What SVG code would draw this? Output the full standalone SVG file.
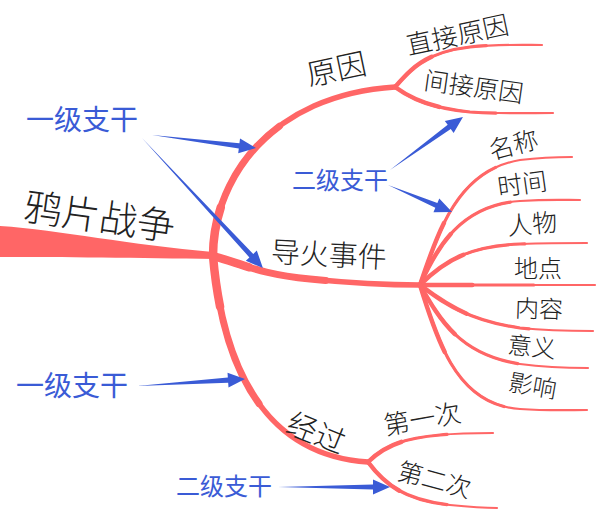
<svg xmlns="http://www.w3.org/2000/svg" xmlns:xlink="http://www.w3.org/1999/xlink" width="604" height="519" viewBox="0 0 604 519">
<style>
.br{fill:none;stroke:#FF6666;stroke-linecap:round}
.m1{stroke-width:5.5}
.m2{stroke-width:7;stroke-dasharray:55 300}
.m3{stroke-width:8.5;stroke-dasharray:18 300}
.s1{stroke-width:2.2}
.s2{stroke-width:3.2;stroke-dasharray:65 300}
.s3{stroke-width:4.4;stroke-dasharray:30 300}
.t{font-family:"Noto Sans CJK SC","Noto Sans CJK JP",sans-serif;font-weight:300;fill:#222;text-anchor:middle;dominant-baseline:central}
.bt{font-family:"Noto Sans CJK SC","Noto Sans CJK JP",sans-serif;fill:#3A5BD6;text-anchor:middle;dominant-baseline:central}
.ar{fill:#3A5BD6}
</style>
<defs>
<path id="p-yy" pathLength="100" d="M213,256 C213,180 270,95 395,87"/>
<path id="p-dh" pathLength="100" d="M213,256 C245,265 260,274 310,279 C360,284 400,285 420,285"/>
<path id="p-jg" pathLength="100" d="M213,256 C222,360 260,455 368,462"/>
<path id="p-zj" pathLength="100" d="M395,87 C410,70 425,52 470,47 C500,44 525,45 542,45"/>
<path id="p-jj" pathLength="100" d="M395,87 C410,98 430,108 470,112 C500,114 530,113 553,113"/>
<path id="p-mc" pathLength="100" d="M420,285 C440,225 460,170 520,160 C545,157 560,157 572,157"/>
<path id="p-sj" pathLength="100" d="M420,285 C440,240 465,205 520,201 C550,199 565,200 580,200"/>
<path id="p-rw" pathLength="100" d="M420,285 C445,260 470,246 520,244 C550,243 570,243 587,243"/>
<path id="p-dd" pathLength="100" d="M420,285 C470,285 540,285 595,285"/>
<path id="p-nr" pathLength="100" d="M420,285 C440,300 465,320 520,328 C550,331 575,331 593,331"/>
<path id="p-yi" pathLength="100" d="M420,285 C440,320 460,355 520,364 C550,368 570,368 588,368"/>
<path id="p-yx" pathLength="100" d="M420,285 C440,350 460,405 520,409 C550,411 570,410 587,410"/>
<path id="p-d1" pathLength="100" d="M368,462 C385,445 405,438 440,435 C460,433 480,433 493,433"/>
<path id="p-d2" pathLength="100" d="M368,462 C385,485 405,500 450,505 C470,507 485,508 497,508"/>
</defs>
<g id="connectors">
<path id="trunk" fill="#FF6666" d="M0,226 C60,230 130,245 213,252 L215,259 C140,258 60,257 0,257 Z"/>
<use xlink:href="#p-yy" class="br m1"/><use xlink:href="#p-yy" class="br m2"/><use xlink:href="#p-yy" class="br m3"/>
<use xlink:href="#p-dh" class="br m1"/><use xlink:href="#p-dh" class="br m2"/><use xlink:href="#p-dh" class="br m3"/>
<use xlink:href="#p-jg" class="br m1"/><use xlink:href="#p-jg" class="br m2"/><use xlink:href="#p-jg" class="br m3"/>
<use xlink:href="#p-zj" class="br s1"/><use xlink:href="#p-zj" class="br s2"/><use xlink:href="#p-zj" class="br s3"/>
<use xlink:href="#p-jj" class="br s1"/><use xlink:href="#p-jj" class="br s2"/><use xlink:href="#p-jj" class="br s3"/>
<use xlink:href="#p-mc" class="br s1"/><use xlink:href="#p-mc" class="br s2"/><use xlink:href="#p-mc" class="br s3"/>
<use xlink:href="#p-sj" class="br s1"/><use xlink:href="#p-sj" class="br s2"/><use xlink:href="#p-sj" class="br s3"/>
<use xlink:href="#p-rw" class="br s1"/><use xlink:href="#p-rw" class="br s2"/><use xlink:href="#p-rw" class="br s3"/>
<use xlink:href="#p-dd" class="br s1"/><use xlink:href="#p-dd" class="br s2"/><use xlink:href="#p-dd" class="br s3"/>
<use xlink:href="#p-nr" class="br s1"/><use xlink:href="#p-nr" class="br s2"/><use xlink:href="#p-nr" class="br s3"/>
<use xlink:href="#p-yi" class="br s1"/><use xlink:href="#p-yi" class="br s2"/><use xlink:href="#p-yi" class="br s3"/>
<use xlink:href="#p-yx" class="br s1"/><use xlink:href="#p-yx" class="br s2"/><use xlink:href="#p-yx" class="br s3"/>
<use xlink:href="#p-d1" class="br s1"/><use xlink:href="#p-d1" class="br s2"/><use xlink:href="#p-d1" class="br s3"/>
<use xlink:href="#p-d2" class="br s1"/><use xlink:href="#p-d2" class="br s2"/><use xlink:href="#p-d2" class="br s3"/>
</g>
<g id="n-root"><text class="t" font-size="38" transform="translate(100,214) rotate(8)">鸦片战争</text></g>
<g id="n-yuanyin"><text class="t" font-size="30" transform="translate(336,67) rotate(-12)">原因</text></g>
<g id="n-zhijie"><text class="t" font-size="26" transform="translate(457,33) rotate(-12)">直接原因</text></g>
<g id="n-jianjie"><text class="t" font-size="25" transform="translate(474,85) rotate(8)">间接原因</text></g>
<g id="n-daohuo"><text class="t" font-size="29" transform="translate(329,252) rotate(3)">导火事件</text></g>
<g id="n-mingcheng"><text class="t" font-size="25" transform="translate(513,143) rotate(-15)">名称</text></g>
<g id="n-shijian"><text class="t" font-size="25" transform="translate(522,182) rotate(-8)">时间</text></g>
<g id="n-renwu"><text class="t" font-size="25" transform="translate(532,222) rotate(-5)">人物</text></g>
<g id="n-didian"><text class="t" font-size="24" transform="translate(538,266)">地点</text></g>
<g id="n-neirong"><text class="t" font-size="24" transform="translate(539,307) rotate(2)">内容</text></g>
<g id="n-yiyi"><text class="t" font-size="24" transform="translate(532,345) rotate(6)">意义</text></g>
<g id="n-yingxiang"><text class="t" font-size="24" transform="translate(533,384) rotate(10)">影响</text></g>
<g id="n-jingguo"><text class="t" font-size="30" transform="translate(317,431) rotate(22)">经过</text></g>
<g id="n-diyici"><text class="t" font-size="26" transform="translate(422,417) rotate(-10)">第一次</text></g>
<g id="n-dierci"><text class="t" font-size="25" transform="translate(435,478) rotate(15)">第二次</text></g>
<g id="annotations">
<text class="bt" font-size="28" x="82" y="118">一级支干</text>
<text class="bt" font-size="28" x="72" y="384">一级支干</text>
<text class="bt" font-size="24" x="340" y="178">二级支干</text>
<text class="bt" font-size="24" x="224" y="484">二级支干</text>
<polygon class="ar" transform="translate(152,135) rotate(7.1)" points="0,0 87.8,-2.6 87.8,-7.5 104.8,0 87.8,7.5 87.8,2.6"/>
<polygon class="ar" transform="translate(142,138) rotate(47.1)" points="0,0 160.6,-2.6 160.6,-7.5 177.6,0 160.6,7.5 160.6,2.6"/>
<polygon class="ar" transform="translate(390,170) rotate(-36)" points="0,0 73.2,-2.6 73.2,-7.5 90.2,0 73.2,7.5 73.2,2.6"/>
<polygon class="ar" transform="translate(388,185) rotate(22.9)" points="0,0 52.5,-2.6 52.5,-7.5 69.5,0 52.5,7.5 52.5,2.6"/>
<polygon class="ar" transform="translate(137,386) rotate(-3.7)" points="0,0 91.2,-2.6 91.2,-7.5 108.2,0 91.2,7.5 91.2,2.6"/>
<polygon class="ar" transform="translate(278,487)" points="0,0 95,-2.6 95,-7.5 112,0 95,7.5 95,2.6"/>
</g>
</svg>
